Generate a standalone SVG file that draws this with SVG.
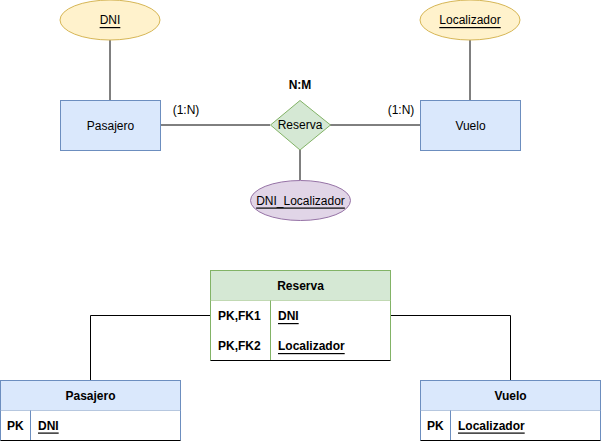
<svg xmlns="http://www.w3.org/2000/svg" width="601" height="441" viewBox="0 0 601 441">
  <style>
    text { font-family: "Liberation Sans", Arial, sans-serif; font-size: 12px; fill: #000; }
    .c { text-anchor: middle; dominant-baseline: central; }
    .l { dominant-baseline: central; }
    .u { text-decoration: underline; }
    .b { font-weight: bold; }
    .conn { fill: none; stroke: #000; stroke-width: 1; }
    .ent { fill: #dae8fc; stroke: #6c8ebf; }
    .key { fill: #fff2cc; stroke: #d6b656; }
    .comp { fill: #e1d5e7; stroke: #9673a6; }
    .rel { fill: #d5e8d4; stroke: #82b366; }
    .body { fill: #fff; }
    .bot { stroke: #000; }
  </style>

  <!-- connectors -->
  <g id="connectors">
    <path class="conn" d="M110 40 V100"/>
    <path class="conn" d="M470 40 V100"/>
    <path class="conn" d="M160 125 H270"/>
    <path class="conn" d="M330 125 H420"/>
    <path class="conn" d="M300 150 V180"/>
    <path class="conn" d="M90.5 380 V315.5 H210"/>
    <path class="conn" d="M510.5 380 V315.5 H390"/>
    <text class="c" x="186" y="110">(1:N)</text>
    <text class="c" x="401" y="110">(1:N)</text>
  </g>

  <!-- conceptual model -->
  <g id="attr-dni">
    <ellipse class="key" cx="110" cy="20" rx="50" ry="20"/>
    <text class="c u" x="110" y="20">DNI</text>
  </g>
  <g id="attr-localizador">
    <ellipse class="key" cx="470" cy="20" rx="50" ry="20"/>
    <text class="c u" x="470" y="20">Localizador</text>
  </g>
  <g id="ent-pasajero">
    <rect class="ent" x="60.5" y="100.5" width="100" height="50"/>
    <text class="c" x="110.5" y="125.5">Pasajero</text>
  </g>
  <g id="ent-vuelo">
    <rect class="ent" x="420.5" y="100.5" width="100" height="50"/>
    <text class="c" x="470.5" y="125.5">Vuelo</text>
  </g>
  <g id="rel-reserva">
    <text class="c b" x="300" y="85">N:M</text>
    <polygon class="rel" points="300,100.5 330.5,125 300,150 270.5,125"/>
    <text class="c" x="300" y="125">Reserva</text>
  </g>
  <g id="attr-dni-localizador">
    <ellipse class="comp" cx="300.5" cy="200.5" rx="50" ry="20"/>
    <text class="c u" x="300.5" y="200.5">DNI_Localizador</text>
  </g>

  <!-- relational tables -->
  <g id="tbl-reserva">
    <rect class="rel" x="210.5" y="270.5" width="180" height="30"/>
    <text class="c b" x="300.5" y="285.5">Reserva</text>
    <rect class="body" x="210.5" y="300.5" width="180" height="60" stroke="none"/>
    <path d="M210.5 300.5 V360.5 M390.5 300.5 V360.5 M270.5 300.5 V360.5" stroke="#82b366" fill="none"/>
    <path class="bot" d="M210.5 360.5 H390.5"/>
    <text class="l b" x="218" y="316">PK,FK1</text>
    <text class="l u b" x="278" y="316">DNI</text>
    <text class="l b" x="218" y="346">PK,FK2</text>
    <text class="l u b" x="278" y="346">Localizador</text>
  </g>
  <g id="tbl-pasajero">
    <rect class="ent" x="0.5" y="380.5" width="180" height="30"/>
    <text class="c b" x="90.5" y="395.5">Pasajero</text>
    <rect class="body" x="0.5" y="410.5" width="180" height="30" stroke="none"/>
    <path d="M0.5 410.5 V440.5 M180.5 410.5 V440.5 M30.5 410.5 V440.5" stroke="#6c8ebf" fill="none"/>
    <path class="bot" d="M0.5 440.5 H180.5"/>
    <text class="l b" x="7" y="425.5">PK</text>
    <text class="l u b" x="38" y="425.5">DNI</text>
  </g>
  <g id="tbl-vuelo">
    <rect class="ent" x="420.5" y="380.5" width="180" height="30"/>
    <text class="c b" x="510.5" y="395.5">Vuelo</text>
    <rect class="body" x="420.5" y="410.5" width="180" height="30" stroke="none"/>
    <path d="M420.5 410.5 V440.5 M600.5 410.5 V440.5 M450.5 410.5 V440.5" stroke="#6c8ebf" fill="none"/>
    <path class="bot" d="M420.5 440.5 H600.5"/>
    <text class="l b" x="427" y="425.5">PK</text>
    <text class="l u b" x="458" y="425.5">Localizador</text>
  </g>
</svg>
